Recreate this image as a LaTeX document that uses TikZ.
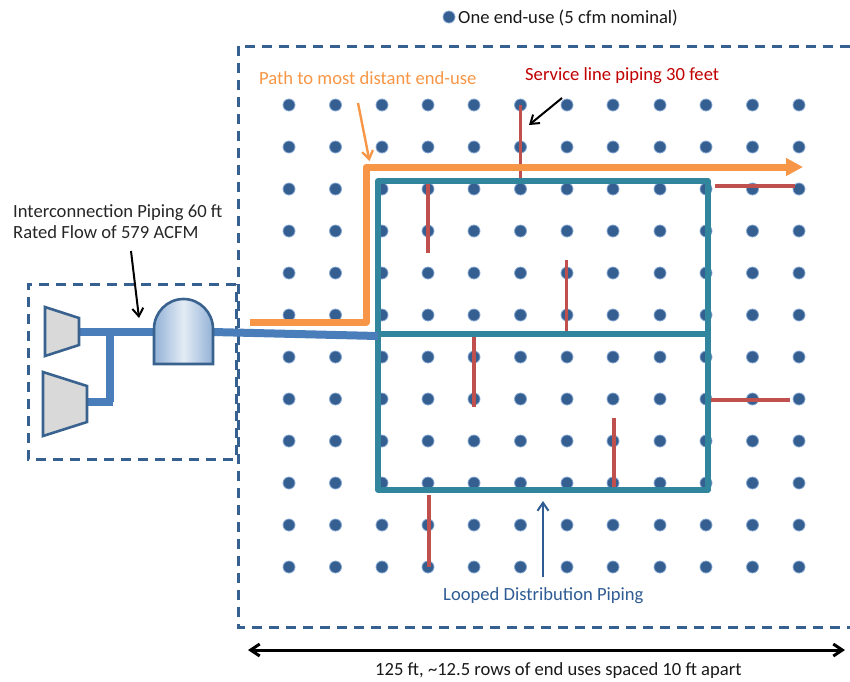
\documentclass[tikz,border=0pt]{standalone}
\usepackage{fontspec}
\setmainfont{Carlito}
\usetikzlibrary{arrows.meta,calc}
\definecolor{navyline}{HTML}{36608F}
\definecolor{dotblue}{HTML}{365F91}
\definecolor{dotrim}{HTML}{4F81BD}
\definecolor{pipeblue}{HTML}{4A7EBB}
\definecolor{loopteal}{HTML}{31859C}
\definecolor{pathorange}{HTML}{F79646}
\definecolor{svcred}{HTML}{C0504D}
\definecolor{svctext}{HTML}{C00000}
\definecolor{looptext}{HTML}{2F5C94}
\definecolor{comprgray}{HTML}{D9D9D9}
\definecolor{tankedge}{HTML}{3A628F}
\tikzset{
  lab/.style={font=\fontsize{18.6}{21}\selectfont, inner sep=0pt, anchor=west, align=left},
  bounds/.style={draw=navyline, line width=3pt, dash pattern=on 10pt off 7pt},
  enduse/.style={circle, fill=dotblue, draw=dotrim!70, line width=0.8pt, minimum size=12pt, inner sep=0pt},
  mainpipe/.style={draw=pipeblue, line width=8pt},
  looppipe/.style={draw=loopteal, line width=5.6pt, line join=round},
  pathpipe/.style={draw=pathorange, line width=7pt, line join=round},
  svcpipe/.style={draw=svcred, line width=3.2pt},
  comprbox/.style={draw=tankedge, line width=2.6pt, fill=comprgray, line join=miter},
  callout/.style={-{Straight Barb[length=8pt,width=11pt]}, line width=2pt},
}
\begin{document}
\begin{tikzpicture}[x=1pt,y=-1pt]
\useasboundingbox (0,0) rectangle (850,681);
% boundaries
\draw[bounds] (850,46) -- (238,46) -- (238,627) -- (850,627);
\draw[bounds] (236,284) -- (28,284) -- (28,459) -- (236,459) -- cycle;
% end-use grid
\foreach \c [count=\ci] in {289,335.5,382,428,474,520.5,567,613,660,706,752.5,799}{
  \foreach \r [count=\ri] in {105,147,189,231,273,315,357,399,441,483,525,567}{
    \node[enduse] (d\ci-\ri) at (\c,\r) {};
  }
}
\node[enduse] (legenddot) at (449,17) {};
% coordinates
\coordinate (p1a) at (520.5,105); \coordinate (p1b) at (520.5,181);
\coordinate (p2a) at (428,183);   \coordinate (p2b) at (428,253);
\coordinate (p3a) at (566.5,260); \coordinate (p3b) at (566.5,334);
\coordinate (p4a) at (474,336);   \coordinate (p4b) at (474,407);
\coordinate (p5a) at (614,418);   \coordinate (p5b) at (614,490);
\coordinate (p6a) at (429,495);   \coordinate (p6b) at (429,567);
\coordinate (p7a) at (715,186);   \coordinate (p7b) at (795,186);
\coordinate (p8a) at (710,400);   \coordinate (p8b) at (790,400);
% service lines
\foreach \i in {1,...,8}{ \draw[svcpipe] (p\i a) -- (p\i b); }
% loop
\coordinate (lnw) at (378,181); \coordinate (lne) at (708,181);
\coordinate (lse) at (708,490); \coordinate (lsw) at (378,490);
\coordinate (lmw) at (378,336); \coordinate (lme) at (708,334);
\draw[looppipe] (lnw) -- (lne) -- (lse) -- (lsw) -- cycle;
\draw[looppipe] (378,334) -- (lme);
% orange path
\coordinate (o1) at (250,322); \coordinate (o2) at (366,322);
\coordinate (o3) at (366,167); \coordinate (o4) at (803,167);
\draw[pathpipe,-{Triangle[length=17pt,width=17pt]}] (o1) -- (o2) -- (o3) -- (o4);
% compressors and receiver
\node[inner sep=0pt,minimum size=0pt] (c1) at (79,332) {};
\node[inner sep=0pt,minimum size=0pt] (c2) at (87,402) {};
\coordinate (jn) at (110,332); \coordinate (jb) at (110,402);
\node[inner sep=0pt,minimum size=0pt] (tin) at (154,332) {};
\node[inner sep=0pt,minimum size=0pt] (tout) at (213,332) {};
\draw[mainpipe] (c1) -- (tin);
\draw[mainpipe] (jn) -- (jb);
\draw[mainpipe] (c2) -- ($(jb)+(3,0)$);
\draw[mainpipe] (tout) -- (lmw);
\draw[comprbox] (45,307) -- (79,318) -- (79,345) -- (45,356) -- cycle;
\draw[comprbox] (43,372) -- (87,386) -- (87,422) -- (43,436) -- cycle;
\draw[draw=tankedge, line width=2.6pt, left color=pipeblue!60, right color=pipeblue!60, middle color=pipeblue!15]
  (154,364) -- (154,329) arc[start angle=180,end angle=360,x radius=29.5,y radius=30] -- (213,364) -- cycle;
% labels
\node[lab,text=black!90] (legend) at (458,18) {One end-use (5 cfm nominal)};
\node[lab,text=pathorange] (pathlab) at (259,78) {Path to most distant end-use};
\node[lab,text=svctext] (svclab) at (525,75.5) {Service line piping 30 feet};
\node[lab,text=black!85] (intlab) at (13,222) {Interconnection Piping 60 ft\\Rated Flow of 579 ACFM};
\node[lab,text=looptext] (looplab) at (443,595.5) {Looped Distribution Piping};
\node[lab,text=black!90] (dimlab) at (375,671) {125 ft, \textasciitilde 12.5 rows of end uses spaced 10 ft apart};
% callouts
\coordinate (a1) at (139,318); \coordinate (a1s) at (131,251);
\coordinate (a2) at (369.5,161); \coordinate (a2s) at (358,103);
\coordinate (a3) at (529,125); \coordinate (a3s) at (562,98);
\coordinate (a4) at (543,501); \coordinate (a4s) at (543,577);
\coordinate (dl) at (248,650); \coordinate (dr) at (845,650);
\draw[callout,black] (a1s) -- (a1);
\draw[callout,pathorange,line width=2.4pt] (a2s) -- (a2);
\draw[callout,black] (a3s) -- (a3);
\draw[callout,looptext] (a4s) -- (a4);
\draw[{Straight Barb[length=9pt,width=12pt]}-{Straight Barb[length=9pt,width=12pt]},black,line width=3pt] (dl) -- (dr);
\end{tikzpicture}
\end{document}
